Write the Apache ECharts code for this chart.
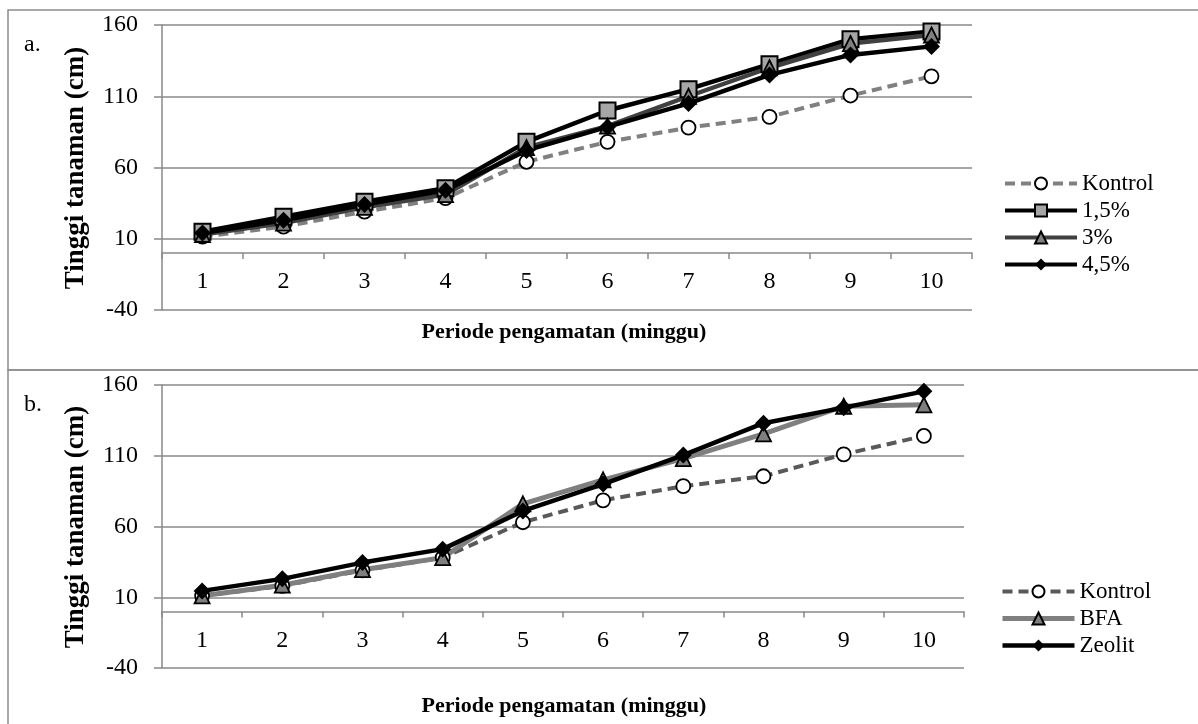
<!DOCTYPE html>
<html>
<head>
<meta charset="utf-8">
<script src="https://cdn.jsdelivr.net/npm/echarts@6/dist/echarts.min.js"></script>
<style>
  html, body { margin: 0; padding: 0; background: #fff; }
  #chart { width: 1198px; height: 724px; }
</style>
</head>
<body>
<div id="chart"></div>
<script>
// minggu ke-
const weeks = ['1', '2', '3', '4', '5', '6', '7', '8', '9', '10'];

// panel a: dosis
const kontrolA = [11.5, 18.5, 29, 38.5, 64, 78, 88, 95.5, 110.5, 124];
const dosis15 = [15, 25.5, 36, 45.5, 78, 100, 115, 132.5, 150, 155.5];
const dosis3 = [13, 21, 32, 41, 74, 89, 110, 130, 147, 153];
const dosis45 = [14, 23, 34, 44, 72, 88.5, 105, 125, 139, 145];

// panel b: jenis bahan
const kontrolB = [11, 18, 29, 38, 63, 78.5, 88.5, 95.5, 111, 124];
const bfa = [11, 18.5, 29.5, 38, 76, 93, 108, 125.5, 145, 146];
const zeolit = [14.5, 23, 34.5, 44, 71, 90, 110.5, 133, 144, 155.5];

const yTicks = { min: -40, max: 160, interval: 50 };

const FONT = '"Liberation Serif", "Times New Roman", serif';
const GRID_C = '#898989';

// plot heights, the x axis sits on the 0 line
const plotH = [285, 283];

function xAxisFor(gridIndex) {
    // shift the axis up from the grid bottom (-40) to the zero line
    const off = -plotH[gridIndex] * (0 - yTicks.min) / (yTicks.max - yTicks.min);
    return {
        type: 'category',
        gridIndex: gridIndex,
        data: weeks,
        boundaryGap: true,
        position: 'bottom',
        offset: off,
        axisLine: { onZero: false, lineStyle: { color: GRID_C, width: 1.5 } },
        axisTick: { show: true, length: 6, lineStyle: { color: GRID_C, width: 1.5 } },
        axisLabel: { color: '#000', fontFamily: FONT, fontSize: 24, margin: 17 },
        splitLine: { show: false }
    };
}

function yAxisFor(gridIndex) {
    return {
        type: 'value',
        gridIndex: gridIndex,
        min: yTicks.min,
        max: yTicks.max,
        interval: yTicks.interval,
        axisLine: { show: true, lineStyle: { color: GRID_C, width: 1.5 } },
        axisTick: { show: true, length: 8, lineStyle: { color: GRID_C, width: 1.5 } },
        axisLabel: { color: '#000', fontFamily: FONT, fontSize: 24, margin: 24 },
        splitLine: { show: true, lineStyle: { color: GRID_C, width: 1.5 } }
    };
}

function lineSeries(name, data, idx, opts) {
    return {
        name: name,
        type: 'line',
        xAxisIndex: idx,
        yAxisIndex: idx,
        data: data,
        symbol: opts.symbol,
        symbolSize: opts.size,
        showAllSymbol: true,
        lineStyle: { color: opts.line, width: opts.width || 4.5, type: opts.dash ? [10, 6] : 'solid' },
        itemStyle: { color: opts.fill, borderColor: opts.border || '#000', borderWidth: opts.bw == null ? 1.8 : opts.bw },
        emphasis: { disabled: true },
        animation: false
    };
}

function legendItem(name, w) {
    return { name: name, lineStyle: { width: w } };
}

const chart = echarts.init(document.getElementById('chart'));

const legendText = { color: '#000', fontFamily: FONT, fontSize: 23, lineHeight: 22 };

chart.setOption({
    backgroundColor: '#fff',
    grid: [
        { left: 162, top: 25, right: 226, height: plotH[0] },
        { left: 162, top: 385, right: 234, height: plotH[1] }
    ],
    xAxis: [xAxisFor(0), xAxisFor(1)],
    yAxis: [yAxisFor(0), yAxisFor(1)],
    legend: [
        {
            orient: 'vertical', left: 1003, top: 172, padding: 0,
            itemWidth: 72, itemHeight: 15, itemGap: 4,
            textStyle: legendText,
            data: [legendItem('Kontrol', 4), legendItem('1,5%', 4), legendItem('3%', 4), legendItem('4,5%', 4)],
            selectedMode: false
        },
        {
            orient: 'vertical', left: 1000, top: 580, padding: 0,
            itemWidth: 72, itemHeight: 15, itemGap: 4,
            textStyle: legendText,
            data: [legendItem('Kontrol ', 4), legendItem('BFA', 5), legendItem('Zeolit', 4.5)],
            formatter: function (n) { return n.trim(); },
            selectedMode: false
        }
    ],
    series: [
        lineSeries('Kontrol', kontrolA, 0, { symbol: 'circle', size: 14, line: '#808080', fill: '#fff', dash: true, width: 4 }),
        lineSeries('1,5%', dosis15, 0, { symbol: 'rect', size: 16, line: '#000', fill: '#a6a6a6', bw: 2 }),
        lineSeries('3%', dosis3, 0, { symbol: 'triangle', size: 15, line: '#404040', fill: '#808080' }),
        lineSeries('4,5%', dosis45, 0, { symbol: 'diamond', size: 17, line: '#000', fill: '#000', bw: 0 }),
        lineSeries('Kontrol ', kontrolB, 1, { symbol: 'circle', size: 14, line: '#595959', fill: '#fff', dash: true, width: 4 }),
        lineSeries('BFA', bfa, 1, { symbol: 'triangle', size: 15, line: '#7f7f7f', fill: '#7f7f7f', width: 5 }),
        lineSeries('Zeolit', zeolit, 1, { symbol: 'diamond', size: 17, line: '#000', fill: '#000', bw: 0 })
    ],
    graphic: [
        { type: 'rect', shape: { x: 8, y: 10, width: 1300, height: 360 }, style: { fill: null, stroke: '#8c8c8c', lineWidth: 1.5 }, silent: true },
        { type: 'rect', shape: { x: 8, y: 370, width: 1300, height: 400 }, style: { fill: null, stroke: '#8c8c8c', lineWidth: 1.5 }, silent: true },
        { type: 'text', left: 24, top: 33, style: { text: 'a.', font: '24px ' + FONT, fill: '#000' } },
        { type: 'text', left: 24, top: 393, style: { text: 'b.', font: '24px ' + FONT, fill: '#000' } },
        { type: 'text', x: 76, y: 168, rotation: Math.PI / 2,
          style: { text: 'Tinggi tanaman (cm)', font: 'bold 27px ' + FONT, fill: '#000', align: 'center', verticalAlign: 'middle' } },
        { type: 'text', x: 76, y: 527, rotation: Math.PI / 2,
          style: { text: 'Tinggi tanaman (cm)', font: 'bold 27px ' + FONT, fill: '#000', align: 'center', verticalAlign: 'middle' } },
        { type: 'text', x: 564, y: 332,
          style: { text: 'Periode pengamatan (minggu)', font: 'bold 22px ' + FONT, fill: '#000', align: 'center', verticalAlign: 'middle' } },
        { type: 'text', x: 564, y: 706,
          style: { text: 'Periode pengamatan (minggu)', font: 'bold 22px ' + FONT, fill: '#000', align: 'center', verticalAlign: 'middle' } }
    ]
});
</script>
</body>
</html>
